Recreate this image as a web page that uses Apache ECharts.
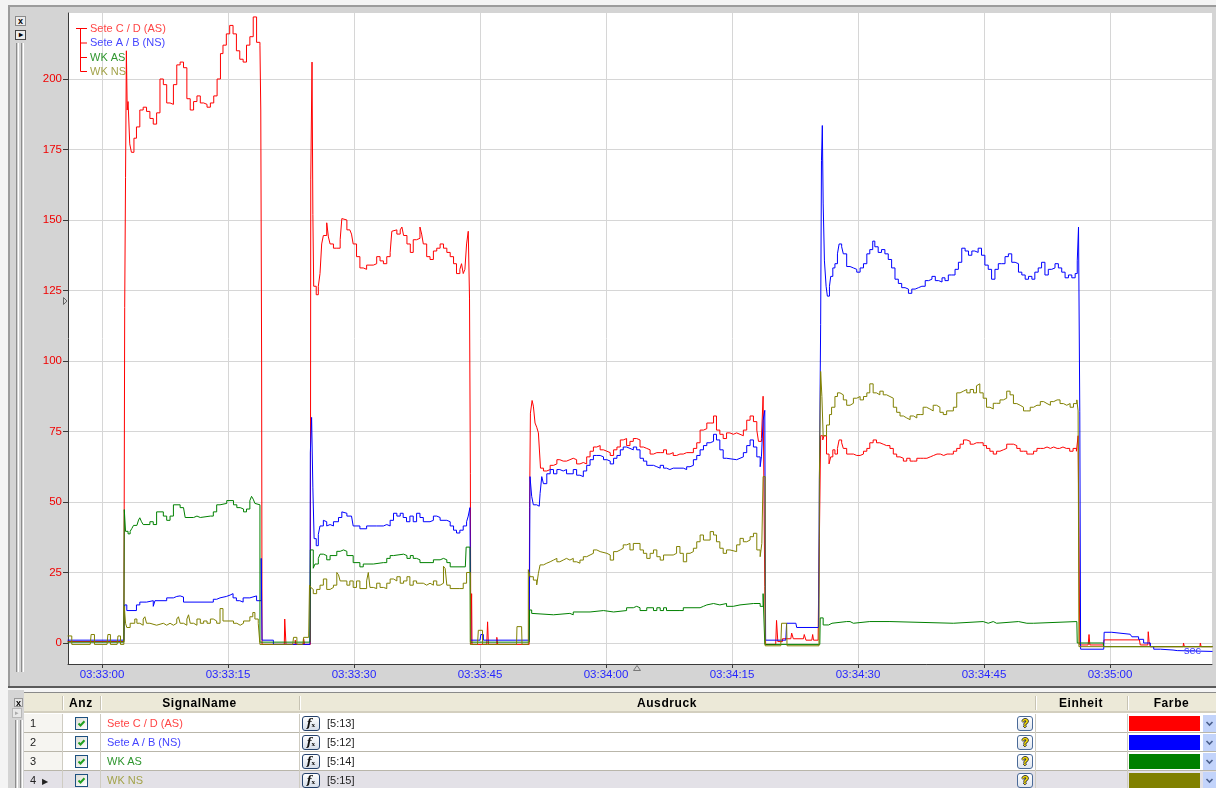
<!DOCTYPE html>
<html><head><meta charset="utf-8">
<script src="https://cdn.jsdelivr.net/npm/echarts@6/dist/echarts.min.js"></script>
<style>
html,body{margin:0;padding:0;background:#f4f4f4;width:1216px;height:788px;overflow:hidden;font-family:"Liberation Sans",Arial,sans-serif;}
.a{position:absolute;box-sizing:border-box;}
#frame{left:8px;top:5px;width:1208px;height:681px;background:#d4d4d4;border-top:2px solid #9c9c9c;border-left:2px solid #9c9c9c;}
#chart{left:0;top:0;width:1216px;height:688px;}
.btn{background:#ececec;border:1px solid #8a8a8a;font-size:9px;font-weight:bold;line-height:8px;text-align:center;color:#000;}
.groove{border-left:1px solid #8c8c8c;border-right:1px solid #fff;width:3px;}
.hdr{font-weight:bold;font-size:12px;letter-spacing:0.6px;color:#000;line-height:20px;}
.cell{font-size:11px;line-height:19px;white-space:nowrap;}
</style></head>
<body>
<div id="frame" class="a"></div>
<div class="a btn" style="left:15px;top:16px;width:11px;height:10px;">x</div>
<div class="a btn" style="left:15px;top:30px;width:11px;height:10px;border-color:#444;font-size:8px;line-height:8px;">&#9656;</div>
<div class="a groove" style="left:16px;top:43px;height:629px;"></div>
<div class="a groove" style="left:21px;top:43px;height:629px;"></div>
<div id="chart" class="a"></div>
<div id="table" class="a" style="left:0;top:686px;width:1216px;height:102px;"></div>
<script>
// ---------------- data (t = seconds after 03:33:00, value) ----------------
const xTickSeconds = [0, 15, 30, 45, 60, 75, 90, 105, 120];
const xTickLabels = ['03:33:00','03:33:15','03:33:30','03:33:45','03:34:00','03:34:15','03:34:30','03:34:45','03:35:00'];
const yTicks = [0, 25, 50, 75, 100, 125, 150, 175, 200];

const seriesNames = ['Sete C / D (AS)', 'Sete A / B (NS)', 'WK AS', 'WK NS'];
const seriesColors = ['#ff0000', '#0000ff', '#008000', '#808000'];
const textColors = ['#ff4545', '#4545ff', '#2f962f', '#a3a34a'];
const expressions = ['[5:13]', '[5:12]', '[5:14]', '[5:15]'];

const seteCD = [
[-4.1,0.5],[2.6,0.5],[2.7,119],[2.8,165],[2.9,210],[3.0,189],[3.1,192],[3.3,177],[3.5,174],[3.8,179],[4.1,183],[4.5,189],[4.9,190],[5.3,188.5],[5.7,186],[6.1,184],[6.5,188],[6.9,200],[7.3,198],[7.7,191.5],[8.1,191],[8.5,198],[8.9,205],[9.3,206],[9.7,204],[10.1,193],[10.5,189],[10.9,192],[11.3,194],[11.7,191.5],[12.1,191],[12.5,190],[12.9,191.5],[13.3,194],[13.7,200],[14.1,209],[14.4,212],[14.8,216],[15.2,219],[15.6,216],[16.0,210],[16.4,207],[16.8,206],[17.2,212],[17.6,215],[18.0,222],[18.4,213],[18.8,212],[18.9,189],[19.0,100],[19.05,-0.5],
[21.7,-0.5],[21.75,8.5],[21.9,-0.5],[23.0,1],[23.1,-0.5],[24.0,1.5],[24.1,-0.5],
[24.8,-0.5],[24.85,164.5],[25.0,206],[25.1,152],[25.2,126.5],[25.5,123.5],[25.75,126.5],[25.95,131],[26.15,141.5],[26.35,144.5],[26.75,149],[26.95,144],[27.15,141.5],[27.55,140],[27.95,140],[28.35,143],[28.55,150.5],[28.75,150],[29.15,146.5],[29.5,146.5],[29.7,145],[29.9,141.5],[30.3,137],[30.7,133],[31.1,132.5],[31.5,134],[31.9,134],[32.3,134.5],[32.7,137],[33.1,135.5],[33.5,134.5],[33.9,137],[34.3,138.5],[34.5,146],[34.7,146.5],[35.1,145],[35.5,146.5],[35.7,147.5],[35.9,144.5],[36.3,141.5],[36.7,138.5],[37.05,143],[37.45,143.5],[37.85,147.5],[38.05,145],[38.25,141.5],[38.65,137],[39.05,136],[39.45,139],[39.85,140],[40.25,141.5],[40.65,140],[41.05,138.5],[41.45,137],[41.85,134.5],[42.2,131],[42.6,132.5],[42.8,134.5],[43.0,131],[43.2,132.5],[43.4,141.5],[43.6,146],[43.75,122],[43.85,60],[43.9,-0.5],[44.0,17.5],[44.05,-0.5],
[45.8,-0.5],[45.9,7.5],[46.0,-0.5],[47.0,2],[47.1,-0.5],
[50.85,-0.5],[50.9,48],[51.0,81.5],[51.2,86],[51.35,84],[51.55,78],[51.75,76.5],[51.95,74.5],[52.05,69.5],[52.2,62],[52.55,61],[52.95,61.5],[53.35,63],[53.75,63.5],[54.15,65],[54.5,64.5],[54.9,64.5],[55.3,65],[55.7,65.5],[56.1,65],[56.5,63.5],[56.9,64],[57.3,63.5],[57.7,66],[58.1,68],[58.5,69.5],[58.9,70],[59.3,68.5],[59.7,68],[60.1,67.5],[60.5,66.5],[60.9,68.5],[61.3,69.5],[61.7,72],[62.05,72.5],[62.45,70],[62.85,71.5],[63.25,72.5],[63.65,72],[64.05,69.5],[64.45,69],[64.85,68.5],[65.25,67],[65.65,67.5],[66.05,67.5],[66.45,67.5],[66.85,68.5],[67.2,67],[67.6,67.5],[68.0,66.5],[68.4,67],[68.8,67],[69.2,67.5],[69.6,67.5],[70.0,67.5],[70.4,69],[70.8,71],[71.2,75.5],[71.6,76],[72.0,78],[72.4,78],[72.8,80.5],[73.15,75.5],[73.55,74],[73.95,72.5],[74.35,74.5],[74.75,74],[75.15,74.5],[75.55,74],[75.95,73.5],[76.35,75.5],[76.75,79],[77.15,80.5],[77.55,78.5],[77.95,75.5],[78.15,71.5],[78.5,72.5],[78.7,87.5],[78.9,20],[79.0,-0.5],
[80.2,-0.5],[80.3,8],[80.45,0.5],[81.0,1.5],[82.0,1.5],[82.1,3.5],[82.3,1.5],[83.5,1.5],[83.6,3],[83.8,1],[84.5,1.5],[84.6,3],[84.7,1],
[85.25,1],[85.3,15],[85.4,37],[85.55,73.5],[85.8,72],[85.95,73.5],[86.25,67],[86.55,63.5],[86.75,66],[87.0,68.5],[87.25,67],[87.55,69],[87.75,72],[88.05,71],[88.25,69],[88.65,67],[89.05,67],[89.45,66.5],[89.85,66.5],[90.25,67],[90.65,68],[91.05,69],[91.4,71],[91.8,72],[92.2,71],[92.6,70.5],[93.0,70],[93.4,70],[93.8,69],[94.2,67],[94.6,66],[95.0,65.5],[95.4,64.5],[95.8,65.5],[96.2,64.5],[96.6,64.5],[97.0,65.5],[97.4,65.5],[97.8,65.5],[98.2,66],[98.6,66.5],[99.0,67],[99.4,67],[99.8,66.5],[100.2,67],[100.6,67],[101.0,67],[101.35,68],[101.75,69],[102.15,70.5],[102.55,72],[102.95,71.5],[103.35,70.5],[103.75,71],[104.1,71],[104.5,71],[104.9,70],[105.3,69],[105.7,68],[106.1,67],[106.5,68],[106.9,68.5],[107.3,69],[107.7,70.5],[108.1,70.5],[108.5,70],[108.9,69],[109.3,68],[109.7,68],[110.1,67],[110.5,67],[110.9,68],[111.3,69],[111.7,69],[112.1,69.5],[112.5,69],[112.9,69.5],[113.3,69],[113.7,69],[114.0,69.5],[114.4,69],[114.8,69],[115.2,68],[115.6,69],[116.0,68],[116.2,73.5],[116.3,38],[116.4,-0.7],
[117.4,-0.7],[117.5,3],[117.6,-0.7],[119.2,-0.7],[119.3,1.1],[123.5,1.1],[123.6,-0.7],[124.5,-0.7],[124.55,4],[124.65,0.5],[124.8,-1.3],[128.7,-1.3],[128.75,0],[128.85,-1.3],[130.7,-1.3],[130.75,0],[130.85,-1.3],[132.2,-1.3]
];

const seteAB = [
[-4.1,1],[2.6,1],[2.7,13.5],[2.95,11.5],[4.1,13.5],[4.5,14.5],[5.3,15],[6.1,13],[6.3,15],[7.7,16],[8.5,16.5],[8.9,16.7],[9.3,16.3],[9.7,14.5],[13.25,15.5],[13.65,16],[14.05,16.5],[14.8,17],[15.25,17.5],[15.6,16],[16.0,15],[16.4,14.5],[16.8,16],[17.6,16.7],[18.4,15],[18.95,30],[19.05,1],[20.4,-0.5],
[24.75,-0.5],[24.8,67.5],[24.95,80],[25.1,55],[25.25,37],[25.5,34.5],[25.75,38.5],[25.95,41.5],[26.35,43.5],[26.55,43],[26.75,41.5],[26.95,42],[27.15,41.5],[27.55,43],[28.15,44.5],[28.55,46.5],[28.75,46],[29.15,45],[29.7,44.5],[29.9,41.5],[30.7,40.5],[31.5,41.5],[32.7,41.5],[33.5,42],[33.9,41.5],[34.3,43.5],[34.7,46],[35.1,45],[35.5,46],[35.85,44.5],[36.25,43],[36.65,45],[37.05,43],[37.45,46],[37.85,44.5],[38.25,43],[39.05,43.5],[39.45,45],[39.85,44.5],[40.25,43.5],[41.05,43],[41.45,41.5],[41.85,40],[42.2,39],[42.6,40],[43.0,41.5],[43.4,43],[43.6,45],[43.8,48],[43.9,1],
[45.0,1],[45.1,3],[45.4,1],
[50.85,1],[50.9,24.5],[50.95,59],[51.15,52],[51.35,49],[51.75,48.5],[52.05,48.5],[52.15,53],[52.35,59],[52.55,56.5],[52.95,60],[53.35,61.5],[53.75,60],[54.15,61.5],[54.5,61],[54.9,61.5],[55.3,60],[56.1,61.5],[56.5,59.5],[56.9,59],[57.3,61],[57.7,63],[58.1,65],[58.5,66.5],[58.9,66.5],[59.3,66],[59.7,65],[60.1,64.5],[60.5,63.5],[60.9,65.5],[61.3,66.5],[61.7,68.5],[62.05,69.5],[62.45,69],[62.85,68.5],[63.25,69.5],[63.65,68.5],[64.05,65.5],[64.45,64.5],[64.85,63],[65.65,62.5],[66.05,62],[66.45,63],[66.85,62],[67.2,61.5],[67.6,62],[68.0,62],[69.2,61.5],[69.6,62.5],[70.0,63],[70.4,65],[70.8,66.5],[71.2,68.5],[71.6,70],[72.0,71],[72.4,71.5],[72.8,74],[73.15,72],[73.55,68.5],[73.95,65.5],[74.35,65],[75.55,65.5],[75.95,66],[76.35,67.5],[76.75,70],[77.15,72],[77.55,69.5],[77.95,66],[78.35,62.5],[78.5,66],[78.7,79],[78.9,82.5],[79.0,1],
[81.4,1],[81.5,7],[82.6,7],[82.7,5.5],
[85.3,5.5],[85.4,58],[85.55,113],[85.65,171],[85.75,183.5],[85.85,156],[86.0,135.5],[86.2,126.5],[86.35,123],[86.6,126.5],[86.75,130],[87.0,133],[87.25,134.5],[87.55,138],[87.75,141.5],[88.05,140.5],[88.25,138],[88.65,133.5],[89.05,133],[89.45,132.5],[89.85,131.5],[90.25,133],[90.65,134.5],[91.05,138],[91.4,139.5],[91.75,142.5],[92.0,140.5],[92.4,138.5],[92.8,139.5],[93.2,138],[93.6,136],[94.0,133],[94.4,129],[94.8,127.5],[95.2,126],[95.6,125.5],[96.0,124],[96.4,125.5],[96.8,126],[97.2,126.5],[97.6,126.5],[98.0,128.5],[98.4,129],[98.8,130],[99.2,128.5],[99.6,128],[100.0,129.5],[100.35,128.5],[100.75,130.5],[101.15,130.5],[101.55,132.5],[101.95,135],[102.35,140],[102.75,139],[103.15,137.5],[103.55,139],[103.9,138.5],[104.3,140],[104.7,137.5],[105.1,134],[105.5,132.5],[105.9,129],[106.3,132.5],[106.7,134.5],[107.1,134.5],[107.5,137],[107.9,138],[108.3,135],[108.7,134.5],[109.1,131.5],[109.5,130.5],[109.9,129],[110.3,130],[110.7,129],[111.05,131.5],[111.45,133],[111.85,135],[112.25,130.5],[112.65,132.5],[113.05,133],[113.45,134.5],[113.85,133],[114.25,131.5],[114.65,129.5],[115.05,130.5],[115.45,129.5],[115.85,131],[116.1,135.5],[116.25,147.5],[116.4,82],[116.5,-2.2],
[119.25,-2.2],[119.3,3.8],[120.2,3.8],[120.25,3.1],[122.4,3.1],[122.6,2.2],[123.4,1.3],[124.0,0],[124.8,-1.3],[125.2,-2.2],[126.0,-2.5],[127.5,-2.7],[128.0,-3],[132.2,-2.8]
];

const wkAS = [
[-4.1,0.3],[2.6,0.3],[2.65,47.3],[2.8,39.6],[3.1,38.7],[3.35,39.6],[3.55,40.6],[3.75,41.7],[4.15,42.1],[4.35,43.6],[4.5,44.4],[4.7,43],[4.9,42],[5.7,43],[6.1,42],[6.5,46.5],[7.3,45],[7.7,43.5],[8.1,45],[8.5,49],[9.3,48],[9.7,47.5],[9.9,44.5],[10.9,45],[11.3,44.5],[11.7,45],[12.9,45],[13.25,46.5],[13.65,49],[14.05,49.5],[14.85,50.5],[15.65,49],[16.05,48],[16.45,47.5],[16.85,46.5],[17.2,47.5],[17.6,50.5],[17.8,52],[18.0,51],[18.2,49.5],[18.4,49],[18.8,0.3],
[24.75,0.3],[24.8,33],[25.15,26.5],[25.35,28],[25.75,30],[25.95,31.5],[26.35,31],[26.75,29.5],[27.15,31],[27.95,32.5],[28.35,33],[28.75,32.5],[29.15,31],[29.9,28.5],[30.7,27],[31.1,28],[32.3,28.5],[33.5,28.5],[33.9,30],[34.3,31],[34.7,31.5],[35.9,31],[36.3,30],[36.7,31],[37.05,30],[37.45,29.5],[37.85,28.5],[39.45,29.5],[40.25,30],[40.65,29.5],[41.05,28.5],[41.45,27],[43.25,27],[43.35,34],[43.8,34],[43.85,0.3],
[50.85,0],[50.9,11.7],[51.15,10.5],[51.35,10],[53.75,10.5],[55.7,10],[56.1,11],[58.1,11.5],[59.7,11],[60.9,11.5],[62.45,12.5],[63.25,13],[63.65,12.5],[64.05,11.5],[64.85,12.5],[65.65,11.5],[66.05,12.5],[66.45,11.5],[66.85,12.5],[67.2,11.5],[68.8,11.5],[69.2,12.5],[71.2,13],[71.6,13.5],[72.0,14],[72.8,13.5],[73.55,14],[74.35,13],[75.15,13.5],[75.95,14],[77.55,14],[78.35,13],[78.7,17.5],[78.9,-0.5],
[85.45,-1],[85.5,8.9],[85.85,6.4],[86.5,7],[86.9,7.6],[88.65,7.6],[89.05,7],[89.45,7.6],[91.4,8.3],[91.6,7.6],[93.8,7],[101.35,7],[101.55,7.6],[104.9,7.6],[105.1,7],[105.5,7.6],[106.1,7],[106.5,7.6],[109.1,7],[110.1,7],[110.9,7.6],[116.05,7.6],[116.1,0],
[119.2,0],[119.25,-1.3],[132.2,-1.3]
];

const wkNS = [
[-4.1,2.5],[-3.6,-0.5],[-1.4,-0.5],[-1.3,3],[-0.9,-0.5],[0.6,-0.5],[0.7,3],[1.0,-0.5],[1.8,-0.5],[1.9,2.5],[2.2,-0.5],[2.6,-0.5],
[2.65,13],[2.8,7],[2.95,5.5],[3.35,7],[3.9,8.5],[4.15,7],[4.5,6.3],[4.9,8.5],[5.1,9.3],[5.3,7],[5.7,6.3],[6.5,7],[7.3,6.3],[7.7,7],[8.1,6.3],[8.5,7],[8.9,8.5],[9.1,9.3],[9.3,7],[9.7,6.3],[10.1,8.5],[10.3,10],[10.5,7],[10.9,6.3],[11.3,8.5],[11.7,7],[12.1,7.8],[12.5,7],[12.9,8.5],[13.25,7.8],[13.65,7],[14.05,12.2],[14.4,7.8],[15.65,7],[16.05,6.3],[16.45,7],[16.85,7.8],[17.6,9.3],[17.95,10.8],[18.2,8.5],[18.6,7],[18.8,-0.5],
[22.7,-0.5],[22.8,2],[23.2,-0.5],[23.9,-0.5],[24.0,2],[24.6,2],
[24.7,20.5],[24.85,19.7],[24.95,19],[25.15,17.5],[25.55,19],[25.95,20.5],[26.35,22.7],[26.75,19],[27.15,19.7],[27.55,20.5],[27.95,25],[28.15,24.2],[28.35,22],[29.15,20.5],[29.5,22],[29.9,19.7],[30.3,22],[30.7,19.3],[31.5,22],[31.7,25],[31.9,19.7],[32.3,19.3],[32.7,21.2],[33.1,19.7],[33.5,19.3],[33.9,21.2],[34.3,22.7],[34.7,22],[35.1,23.5],[35.5,21.2],[35.9,22],[36.3,23.5],[36.65,20.5],[37.05,22],[37.45,21.2],[38.25,20.5],[38.65,21.2],[39.05,20.5],[39.45,22],[39.85,20.5],[40.25,21.2],[40.65,27.2],[40.85,26.4],[41.05,20.5],[41.45,19.3],[42.6,19.3],[43.0,21.2],[43.4,25],[43.85,-0.5],
[44.7,-0.5],[44.8,4.5],[45.3,-0.5],[49.35,-0.5],[49.4,5.8],[49.95,5.8],[50.0,-0.5],
[50.75,26],[50.95,23.5],[51.35,22.3],[51.75,20.6],[51.95,24.7],[52.15,27.7],[52.55,28.3],[52.95,28.8],[53.35,29.4],[53.75,30],[54.15,28.8],[54.5,29.4],[54.9,30],[55.3,29.4],[55.7,30],[56.1,28.8],[56.5,28.3],[56.9,29.4],[57.3,30.6],[57.7,31.2],[58.1,31.8],[58.5,33],[58.9,32.4],[59.3,31.8],[60.1,31.2],[60.5,29.4],[60.9,32.4],[61.3,33],[61.7,33.6],[62.05,34.8],[62.45,35.3],[62.85,33],[63.25,35.3],[64.05,33],[64.45,31.8],[64.85,30],[65.25,31.8],[65.65,33],[66.05,30.6],[66.45,29.4],[66.85,31.2],[68.0,31.8],[68.4,34.2],[68.8,31.8],[69.2,28.8],[69.6,31.8],[70.0,32.4],[70.4,33.6],[70.8,35.9],[71.2,38.3],[71.6,36.5],[72.4,39.5],[72.8,38.3],[73.15,35.9],[73.55,33.6],[73.95,31.8],[74.35,33],[74.75,32.4],[75.55,34.8],[75.95,37.1],[76.35,35.9],[76.75,36.5],[77.15,37.7],[77.55,38.9],[77.95,33],[78.35,30.6],[78.55,35.3],[78.7,59],[78.95,-1],
[80.8,-1],[80.9,7],[81.5,7],[81.55,-1],
[85.35,-1],[85.4,58],[85.55,96.3],[85.7,87.4],[85.85,73.5],[86.25,77.3],[86.6,81],[86.85,83.6],[87.25,87.4],[87.55,88.7],[87.85,88],[88.25,86.2],[88.65,84.3],[89.05,85],[89.45,86.8],[89.85,87.4],[90.25,86.2],[90.65,87.4],[91.05,88.7],[91.4,91.9],[91.8,88.7],[92.2,88],[92.6,89.3],[93.0,88],[93.4,87.4],[93.8,86.8],[94.2,83.6],[94.6,81.8],[95.0,80.5],[95.4,79.8],[95.8,79.2],[96.2,80.5],[96.6,79.8],[97.0,81],[97.4,81],[97.75,83.6],[98.15,83],[98.55,82.3],[98.95,84.3],[99.35,83.6],[99.75,81.8],[100.15,81],[100.55,82.3],[100.95,82.3],[101.35,83.6],[101.75,88.7],[102.15,89.3],[102.55,89.9],[102.95,88.7],[103.35,89.9],[103.75,88.7],[104.1,91.2],[104.3,91.9],[104.5,88.7],[104.9,86.8],[105.3,83.6],[105.7,83],[106.1,85],[106.5,85],[106.9,86.2],[107.3,86.8],[107.7,89.3],[108.1,88],[108.5,84.9],[108.9,84.3],[109.3,83.6],[109.7,82.3],[110.1,82.3],[110.5,83.6],[110.9,84.3],[111.3,84.3],[111.7,85.6],[112.1,84.9],[112.5,84.3],[112.9,85.6],[113.3,86.2],[113.7,86.2],[114.05,84.9],[114.45,84.3],[114.85,84.9],[115.25,83.6],[115.65,84.9],[116.05,86.2],[116.2,82.3],[116.3,-1.3],
[132.2,-1.5]
];

const seriesData = [seteCD, seteAB, wkAS, wkNS];

// ---------------- chart ----------------
const chart = echarts.init(document.getElementById('chart'), null, {renderer: 'canvas'});
const FONT = '"Liberation Sans", Arial, sans-serif';
const legendRowsY = [28.5, 42.5, 57, 71];
const graphic = [
  {type:'line', shape:{x1:76, y1:28.5, x2:87, y2:28.5}, style:{stroke:'#ff0000', lineWidth:1}, z:100},
  {type:'line', shape:{x1:80.5, y1:28.5, x2:80.5, y2:71.5}, style:{stroke:'#ff0000', lineWidth:1}, z:100}
];
legendRowsY.forEach((y, i) => {
  if (i > 0) graphic.push({type:'line', shape:{x1:80.5, y1:y+0.5, x2:87, y2:y+0.5}, style:{stroke:'#ff0000', lineWidth:1}, z:100});
  graphic.push({type:'text', x:90, y:y+0.5, z:100, style:{text:seriesNames[i], fill:textColors[i], font:'11px ' + FONT, verticalAlign:'middle'}});
});
graphic.push({type:'text', x:1184, y:651, z:100, style:{text:'sec', fill:'#3a3aff', font:'11px ' + FONT, verticalAlign:'middle'}});
graphic.push({type:'polygon', shape:{points:[[633.5,670.5],[640.5,670.5],[637,665.5]]}, style:{fill:'none', stroke:'#777', lineWidth:1}, z:100});
graphic.push({type:'polygon', shape:{points:[[63.5,297.5],[63.5,304.5],[67,301]]}, style:{fill:'none', stroke:'#666', lineWidth:1}, z:100});

chart.setOption({
  animation: false,
  backgroundColor: 'transparent',
  grid: {left:68, top:13, width:1144, height:651, show:true, backgroundColor:'#ffffff', borderWidth:0, containLabel:false},
  xAxis: {
    type:'value', min:-4.05, max:132.14,
    axisLine:{show:true, onZero:false, lineStyle:{color:'#3a3a3a', width:1}},
    axisTick:{show:true, customValues:xTickSeconds, length:4, lineStyle:{color:'#3a3a3a'}},
    axisLabel:{show:true, customValues:xTickSeconds, margin:5, color:'#2626ff', fontSize:11.5, fontFamily:FONT,
      formatter:(v) => { const k = xTickSeconds.indexOf(Math.round(v)); return k >= 0 ? xTickLabels[k] : ''; }},
    splitLine:{show:true, lineStyle:{color:'#d6d6d6', width:1}}
  },
  yAxis: {
    type:'value', min:-7.45, max:223.4,
    axisLine:{show:true, onZero:false, lineStyle:{color:'#3a3a3a', width:1}},
    axisTick:{show:true, customValues:yTicks, length:5, lineStyle:{color:'#3a3a3a'}},
    axisLabel:{show:true, customValues:yTicks, margin:6, color:'#f00000', fontSize:11.5, fontFamily:FONT},
    splitLine:{show:true, lineStyle:{color:'#d6d6d6', width:1}}
  },
  graphic: graphic,
  series: seriesData.map((d, i) => ({
    type:'line', name:seriesNames[i], data:d, step:'end', showSymbol:false, symbol:'none',
    lineStyle:{color:seriesColors[i], width:1}, itemStyle:{color:seriesColors[i]}, clip:true, z:2+i
  }))
});

// ---------------- table (HTML) ----------------
const T = document.getElementById('table');
function el(style, html, cls) {
  const d = document.createElement('div');
  d.className = 'a' + (cls ? ' ' + cls : '');
  d.setAttribute('style', style);
  if (html !== undefined) d.innerHTML = html;
  T.appendChild(d);
  return d;
}
// separators & left panel
el('left:8px;top:0;width:1208px;height:2px;background:#5a5a5a;');
el('left:8px;top:4px;width:16px;height:98px;background:#d4d4d4;');
el('left:14px;top:12px;width:9px;height:9px;font-size:9px;line-height:8px;font-weight:bold;text-align:center;background:#e4e4e4;border:1px solid #999;', 'x');
el('left:12px;top:22px;width:10px;height:10px;background:#e8e8e8;border:1px solid #b8b8b8;font-size:7px;line-height:8px;color:#aaa;text-align:center;', '&#9656;');
el('left:15px;top:34px;height:68px;', '', 'groove');
el('left:20px;top:34px;height:68px;', '', 'groove');
// table body background
el('left:24px;top:6px;width:1192px;height:96px;background:#ffffff;border-top:1px solid #8a8a8a;');
// header
el('left:24px;top:7px;width:1192px;height:20px;background:#ece9d8;border-bottom:2px solid #d3cfbf;');
const headers = [['Anz', 62, 100], ['SignalName', 100, 299], ['Ausdruck', 299, 1035], ['Einheit', 1035, 1127], ['Farbe', 1127, 1216]];
headers.forEach(h => {
  el('left:' + h[1] + 'px;top:7px;width:' + (h[2] - h[1]) + 'px;height:20px;text-align:center;', h[0], 'hdr');
});
[62, 100, 299, 1035, 1127].forEach(x => {
  el('left:' + x + 'px;top:10px;width:2px;height:14px;border-left:1px solid #c7c3b3;border-right:1px solid #fff;');
});
// rows
const rowTop = [28, 47, 66, 85];
rowTop.forEach((y, i) => {
  const hl = (i === 3);
  el('left:24px;top:' + y + 'px;width:1192px;height:19px;background:' + (hl ? '#e3e1e7' : '#ffffff') + ';border-bottom:1px solid #b9b6aa;');
  el('left:24px;top:' + y + 'px;width:38px;height:19px;background:' + (hl ? '#e3e1e7' : '#f6f5f1') + ';border-bottom:1px solid #b9b6aa;');
  [62, 100, 299, 1035, 1127].forEach(x => el('left:' + x + 'px;top:' + y + 'px;width:1px;height:19px;background:#cfccc2;'));
  el('left:30px;top:' + y + 'px;height:19px;color:#222;', String(i + 1) + (hl ? '&nbsp;&nbsp;<span style="font-size:8px">&#9654;</span>' : ''), 'cell');
  // checkbox
  el('left:75px;top:' + (y + 3) + 'px;width:13px;height:13px;border:1px solid #1c5180;background:linear-gradient(135deg,#dcdcd6,#ffffff);',
     '<svg width="11" height="11" style="position:absolute;left:0;top:0"><path d="M2.5 5.5 L4.5 7.5 L8.5 3.2" stroke="#21a121" stroke-width="2" fill="none"/></svg>');
  el('left:107px;top:' + y + 'px;height:19px;color:' + textColors[i] + ';', seriesNames[i], 'cell');
  // f(x) button
  el('left:302px;top:' + (y + 2) + 'px;width:18px;height:15px;border:1px solid #24406a;border-radius:3px;background:linear-gradient(#ffffff,#d6deea);text-align:center;font:italic bold 11px "DejaVu Serif",serif;line-height:13px;color:#111;',
     'f<span style="font-size:6px;font-style:normal;">x</span>');
  el('left:327px;top:' + y + 'px;height:19px;color:#222;', expressions[i], 'cell');
  // ? button
  el('left:1017px;top:' + (y + 2) + 'px;width:16px;height:15px;border:1px solid #4a6a98;border-radius:3px;background:linear-gradient(#ffffff,#dfe5ee);text-align:center;font:bold 11px ' + FONT + ';line-height:13px;color:#ffe600;text-shadow:-1px 0 #333,1px 0 #333,0 -1px #333,0 1px #333;', '?');
  // colour swatch
  el('left:1129px;top:' + (y + 2) + 'px;width:71px;height:15px;background:' + seriesColors[i] + ';');
  // dropdown
  el('left:1203px;top:' + (y + 1) + 'px;width:13px;height:17px;background:#c3d4fb;',
     '<svg width="13" height="17" style="position:absolute;left:0;top:0"><path d="M3.5 7 L6.5 10 L9.5 7" stroke="#4a5f8c" stroke-width="1.6" fill="none"/></svg>');
});
</script>
</body></html>
